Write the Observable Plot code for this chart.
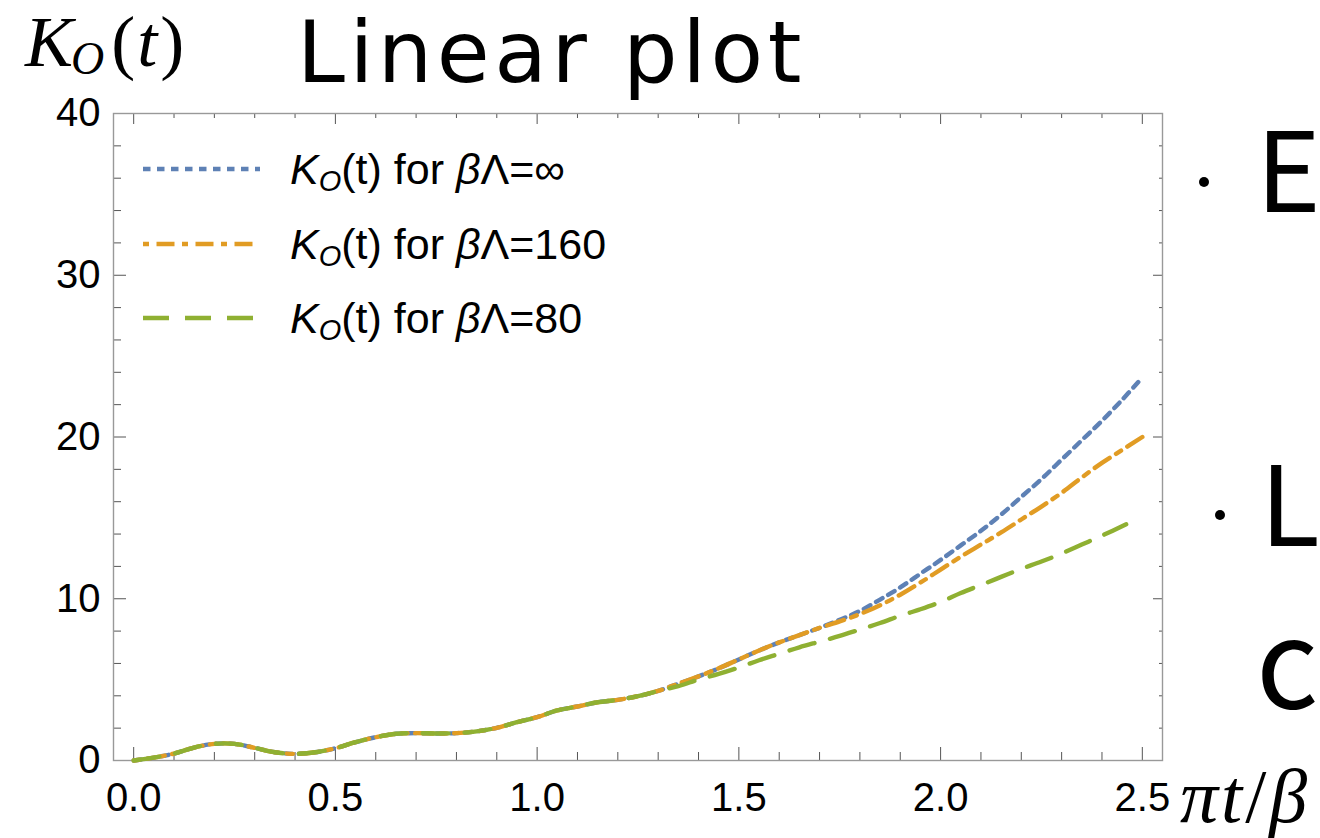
<!DOCTYPE html>
<html><head><meta charset="utf-8">
<script src="https://cdn.jsdelivr.net/npm/d3@7"></script>
<script src="https://cdn.jsdelivr.net/npm/@observablehq/plot@0.6"></script>
<style>
body{margin:0;background:#fff;}
#wrap{position:relative;width:1320px;height:838px;overflow:hidden;background:#fff;}
#wrap svg{position:absolute;left:0;top:0;}
</style></head><body><div id="wrap"></div>
<script>
// ---- data ----
const seriesNames = ["βΛ=∞", "βΛ=160", "βΛ=80"];
const seriesColors = ["#5E81B5", "#E19C24", "#8FB032"];
const seriesDash = ["7.5,6.5", "6,7.5,18,7.5", "26,16"];

// shared early part (all three curves coincide)
const tShared = [0, 0.05, 0.1, 0.15, 0.2, 0.25, 0.3, 0.35, 0.4, 0.45, 0.5, 0.55, 0.6, 0.65, 0.7, 0.75, 0.8, 0.85, 0.9, 0.95, 1.0, 1.05, 1.1, 1.15, 1.2, 1.25, 1.3];
const kShared = [0, 0.18, 0.43, 0.8, 1.03, 1.03, 0.78, 0.51, 0.41, 0.51, 0.76, 1.13, 1.44, 1.65, 1.69, 1.67, 1.69, 1.8, 2.02, 2.37, 2.68, 3.1, 3.34, 3.6, 3.75, 3.98, 4.3];

// tails
const tInf = [1.35, 1.4, 1.45, 1.5, 1.55, 1.6, 1.65, 1.7, 1.75, 1.8, 1.85, 1.9, 1.95, 2.0, 2.05, 2.1, 2.15, 2.2, 2.25, 2.3, 2.35, 2.4, 2.45, 2.49];
const kInf = [4.75, 5.2, 5.7, 6.25, 6.8, 7.3, 7.75, 8.2, 8.7, 9.25, 9.95, 10.7, 11.55, 12.4, 13.3, 14.2, 15.2, 16.3, 17.4, 18.6, 19.8, 21.0, 22.3, 23.4];
const t160 = [1.35, 1.4, 1.45, 1.5, 1.55, 1.6, 1.65, 1.7, 1.75, 1.8, 1.85, 1.9, 1.95, 2.0, 2.05, 2.1, 2.15, 2.2, 2.25, 2.3, 2.35, 2.4, 2.45, 2.5];
const k160 = [4.75, 5.2, 5.7, 6.25, 6.8, 7.3, 7.75, 8.2, 8.6, 9.05, 9.6, 10.25, 11.0, 11.8, 12.6, 13.35, 14.1, 14.9, 15.7, 16.55, 17.5, 18.4, 19.2, 20.0];
const t80 = [1.35, 1.4, 1.45, 1.5, 1.55, 1.6, 1.65, 1.7, 1.75, 1.8, 1.85, 1.9, 1.95, 2.0, 2.05, 2.1, 2.15, 2.2, 2.25, 2.3, 2.35, 2.4, 2.46];
const k80 = [4.6, 5.0, 5.35, 5.75, 6.2, 6.6, 7.0, 7.35, 7.7, 8.1, 8.5, 8.95, 9.35, 9.8, 10.35, 10.85, 11.35, 11.85, 12.3, 12.8, 13.35, 13.9, 14.6];

// ticks
const xMajor = [0, 0.5, 1.0, 1.5, 2.0, 2.5];
const xMinor = [0.1, 0.2, 0.3, 0.4, 0.6, 0.7, 0.8, 0.9, 1.1, 1.2, 1.3, 1.4, 1.6, 1.7, 1.8, 1.9, 2.1, 2.2, 2.3, 2.4];
const yMajor = [0, 10, 20, 30, 40];
const yMinor = [2, 4, 6, 8, 12, 14, 16, 18, 22, 24, 26, 28, 32, 34, 36, 38];

// ---- build table ----
const tails = [[tInf, kInf], [t160, k160], [t80, k80]];
const rows = [];
seriesNames.forEach((name, i) => {
  tShared.forEach((t, j) => rows.push({series: name, t, K: kShared[j]}));
  tails[i][0].forEach((t, j) => rows.push({series: name, t, K: tails[i][1][j]}));
});

const font = "'Liberation Sans', Arial, Helvetica, sans-serif";
const tickColor = "#555";

const lineMarks = seriesNames.map((name, i) =>
  Plot.line(rows.filter(d => d.series === name), {
    x: "t", y: "K", stroke: seriesColors[i], strokeWidth: 4.4,
    strokeDasharray: seriesDash[i], curve: "catmull-rom"
  })
);

const chart = Plot.plot({
  width: 1320, height: 838,
  marginLeft: 113, marginRight: 158, marginTop: 113, marginBottom: 78,
  x: {domain: [-0.05, 2.55]},
  y: {domain: [0, 40]},
  style: {fontFamily: font, background: "transparent", color: "black", overflow: "visible"},
  marks: [
    // inward ticks on all four sides
    Plot.axisX(xMajor, {anchor: "bottom", tickSize: -13, tickFormat: () => "", stroke: tickColor, label: null}),
    Plot.axisX(xMinor, {anchor: "bottom", tickSize: -8, tickFormat: () => "", stroke: tickColor, label: null}),
    Plot.axisX(xMajor, {anchor: "top", tickSize: -10, tickFormat: () => "", stroke: tickColor, label: null}),
    Plot.axisX(xMinor, {anchor: "top", tickSize: -4, tickFormat: () => "", stroke: tickColor, label: null}),
    Plot.axisY(yMajor, {anchor: "left", tickSize: -13, tickFormat: () => "", stroke: tickColor, label: null}),
    Plot.axisY(yMinor, {anchor: "left", tickSize: -8, tickFormat: () => "", stroke: tickColor, label: null}),
    Plot.axisY(yMajor, {anchor: "right", tickSize: -10, tickFormat: () => "", stroke: tickColor, label: null}),
    Plot.axisY(yMinor, {anchor: "right", tickSize: -4, tickFormat: () => "", stroke: tickColor, label: null}),
    // tick labels
    Plot.axisX(xMajor, {anchor: "bottom", tickSize: 0, tickPadding: 22, tickFormat: d => d.toFixed(1), fontSize: 40, fill: "black", label: null}),
    Plot.axisY(yMajor, {anchor: "left", tickSize: 0, tickPadding: 13, tickFormat: d => String(d), fontSize: 40, fill: "black", label: null}),
    Plot.frame({stroke: "#999", strokeWidth: 1.4}),
    ...lineMarks
  ]
});

const wrap = document.getElementById("wrap");
wrap.appendChild(chart);

// ---- overlay: titles, axis labels, legend, clipped slide text ----
const ov = d3.select(wrap).append("svg")
  .attr("width", 1320).attr("height", 838)
  .attr("viewBox", "0 0 1320 838");

// title
ov.append("text").attr("x", 297).attr("y", 82)
  .style("font-family", "'DejaVu Sans', sans-serif").style("font-size", "86px")
  .style("letter-spacing", "4.5px").text("Linear plot");

// y label K_O(t)
const yl = ov.append("text").attr("x", 25).attr("y", 66)
  .style("font-family", "'Liberation Serif', 'Times New Roman', serif").style("font-size", "72px");
yl.append("tspan").style("font-style", "italic").text("K");
yl.append("tspan").style("font-style", "italic").style("font-size", "46px").attr("dy", 8).attr("dx", -2).text("O");
yl.append("tspan").attr("dy", -8).attr("dx", 7).text("(");
yl.append("tspan").style("font-style", "italic").attr("dx", 2).text("t");
yl.append("tspan").attr("dx", 3).text(")");

// x label πt/β
const xl = ov.append("text").attr("x", 1180).attr("y", 822)
  .style("font-family", "'Liberation Serif', 'Times New Roman', serif").style("font-size", "76px")
  .style("letter-spacing", "3px");
xl.append("tspan").style("font-style", "italic").text("π");
xl.append("tspan").style("font-style", "italic").text("t");
xl.append("tspan").text("/");
xl.append("tspan").style("font-style", "italic").text("β");

// legend
const legendY = [169, 244, 318];
seriesNames.forEach((name, i) => {
  ov.append("line").attr("x1", 143).attr("x2", 260)
    .attr("y1", legendY[i]).attr("y2", legendY[i])
    .attr("stroke", seriesColors[i]).attr("stroke-width", 4.4)
    .attr("stroke-dasharray", seriesDash[i]);
  const t = ov.append("text").attr("x", 290).attr("y", legendY[i] + 15)
    .style("font-family", font).style("font-size", "43px");
  t.append("tspan").style("font-style", "italic").text("K");
  t.append("tspan").style("font-style", "italic").style("font-size", "29px").attr("dy", 7).text("O");
  t.append("tspan").attr("dy", -7).text("(t) for ");
  t.append("tspan").style("font-style", "italic").text("β");
  t.append("tspan").text(name.slice(1));
});

// clipped slide text on the right
const jp = "'Noto Sans CJK JP', sans-serif";
[[1204, 182], [1220, 515]].forEach(([cx, cy]) => {
  ov.append("circle").attr("cx", cx).attr("cy", cy).attr("r", 5).attr("fill", "black");
});
ov.append("text").attr("x", 1256).attr("y", 212).style("font-family", jp).style("font-size", "110px").text("E");
ov.append("text").attr("x", 1260).attr("y", 546).style("font-family", jp).style("font-size", "110px").text("L");
ov.append("text").attr("x", 1256).attr("y", 708).style("font-family", jp).style("font-size", "122px").text("c");
</script>
</body></html>
